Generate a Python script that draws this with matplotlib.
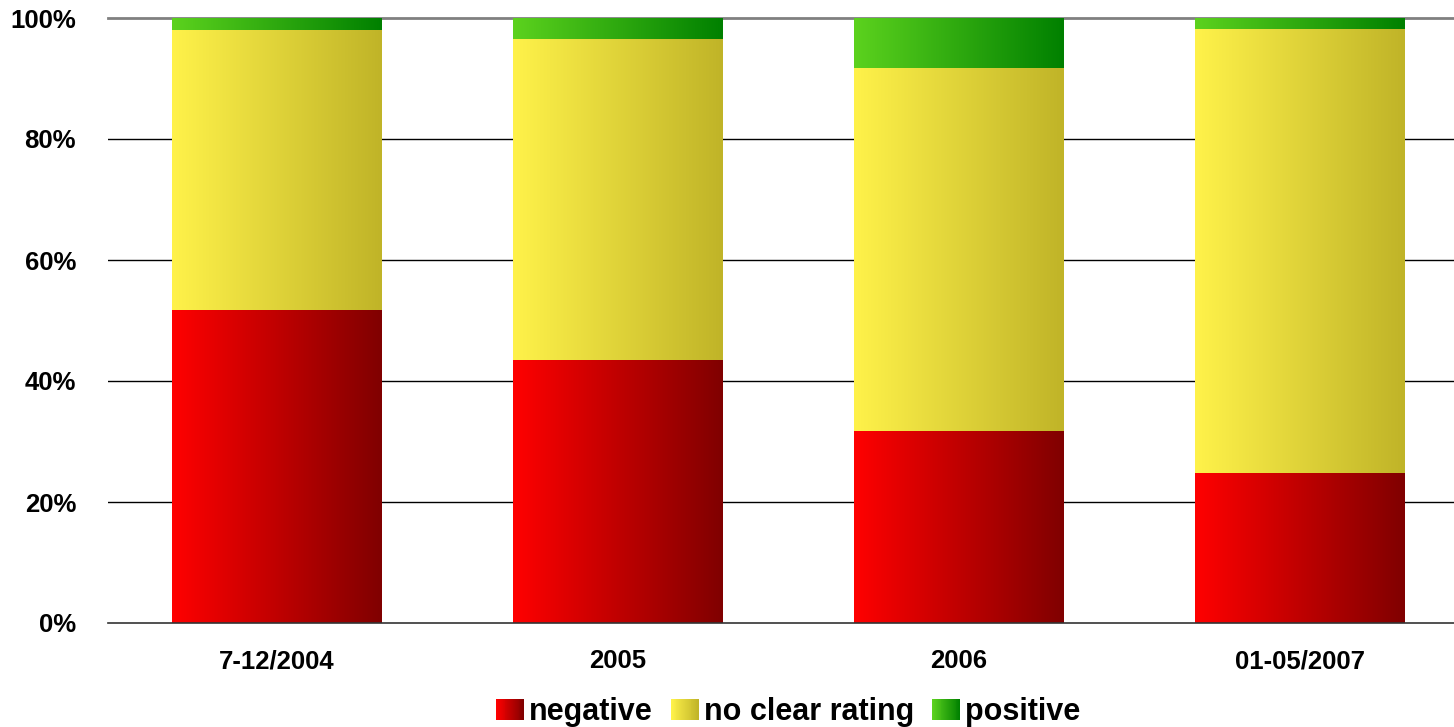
import numpy as np
import matplotlib
matplotlib.use("Agg")
import matplotlib.pyplot as plt
from matplotlib.colors import LinearSegmentedColormap, to_rgb
from matplotlib.patches import Rectangle
from matplotlib.legend_handler import HandlerBase

plt.rcParams['font.family'] = ['Liberation Sans', 'DejaVu Sans']
plt.rcParams['font.weight'] = 'bold'

categories = ["7-12/2004", "2005", "2006", "01-05/2007"]
negative = [51.7, 43.5, 31.7, 24.8]
no_clear = [46.3, 53.0, 60.0, 73.4]
positive = [2.0, 3.5, 8.3, 1.8]
series_names = ["negative", "no clear rating", "positive"]
yticks = [0, 20, 40, 60, 80, 100]

gradients = {
    "negative": ("#ff0000", "#800000"),
    "no clear rating": ("#fff24a", "#c0b428"),
    "positive": ("#5cd21e", "#008000"),
}

fig = plt.figure(figsize=(14.54, 7.27), dpi=100)
ax = fig.add_axes([108 / 1454, 104 / 727, 1346 / 1454, 605 / 727])

for y in yticks:
    if y == 100:
        ax.axhline(y, color="#808080", lw=2, zorder=1, clip_on=False)
    elif y == 0:
        ax.axhline(y, color="#333333", lw=1.2, zorder=3, clip_on=False)
    else:
        ax.axhline(y, color="black", lw=1, zorder=1)

bar_w = 0.613
grad = np.linspace(0, 1, 256).reshape(1, -1)
series = [negative, no_clear, positive]
bottoms = np.zeros(len(categories))
for name, vals in zip(series_names, series):
    cmap = LinearSegmentedColormap.from_list(name, gradients[name])
    for i, v in enumerate(vals):
        x0 = i - bar_w / 2
        ax.imshow(grad, cmap=cmap, aspect="auto", interpolation="bilinear",
                  extent=(x0, x0 + bar_w, bottoms[i], bottoms[i] + v), zorder=2)
    bottoms += np.array(vals)

ax.set_xlim(-0.494, 3.453)
ax.set_ylim(0, 100)
ax.set_yticks(yticks)
ax.set_yticklabels([f"{y}%" for y in yticks], fontsize=18.5, fontweight="bold")
ax.set_xticks(range(len(categories)))
ax.set_xticklabels(categories, fontsize=18.5, fontweight="bold")
ax.tick_params(axis="both", length=0)
ax.tick_params(axis="y", pad=23)
ax.tick_params(axis="x", pad=19)
for s in ax.spines.values():
    s.set_visible(False)


class GradientHandler(HandlerBase):
    def __init__(self, c0, c1):
        super().__init__()
        self.c0 = np.array(to_rgb(c0))
        self.c1 = np.array(to_rgb(c1))

    def create_artists(self, legend, orig_handle, xdescent, ydescent,
                       width, height, fontsize, trans):
        n = 30
        arts = []
        for k in range(n):
            c = self.c0 + (self.c1 - self.c0) * k / (n - 1)
            r = Rectangle((-xdescent + width * k / n, -ydescent),
                          width / n * 1.05, height, facecolor=c,
                          edgecolor="none", transform=trans)
            arts.append(r)
        return arts


handles = [Rectangle((0, 0), 1, 1) for _ in series_names]
handler_map = {h: GradientHandler(*gradients[n]) for h, n in zip(handles, series_names)}
fig.legend(handles, series_names, loc="lower center", bbox_to_anchor=(0.542, -0.038),
           ncol=3, frameon=False, handler_map=handler_map,
           prop={"size": 22, "weight": "bold"}, handlelength=0.92, handleheight=0.69,
           handletextpad=0.15, columnspacing=0.6)

fig.savefig("out.png", dpi=100)
